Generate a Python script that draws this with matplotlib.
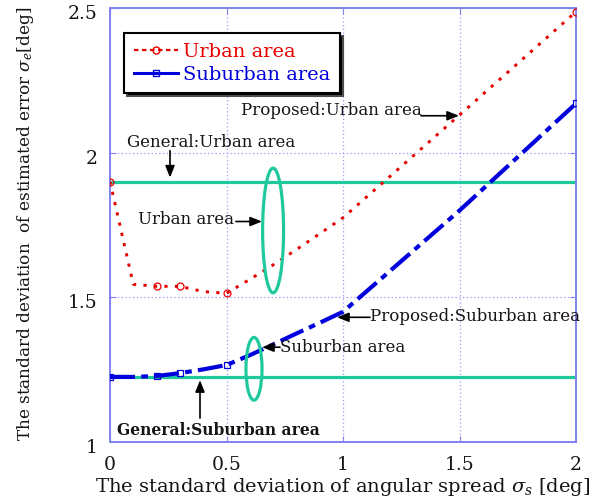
import matplotlib
matplotlib.use("Agg")
import matplotlib.pyplot as plt
from matplotlib.lines import Line2D
from matplotlib.patches import Ellipse
from matplotlib.transforms import ScaledTranslation

plt.rcParams["font.family"] = ["DejaVu Serif"]
plt.rcParams["mathtext.fontset"] = "dejavuserif"

# Angular spread sigma_s [deg]
spread = [0.0, 0.1, 0.2, 0.3, 0.4, 0.5, 0.6, 0.7, 0.8, 0.9, 1.0, 1.5, 2.0]
# Proposed method: std. dev. of estimated error sigma_e [deg]
urban_err = [1.90, 1.545, 1.538, 1.538, 1.52, 1.514, 1.562, 1.612, 1.665, 1.72, 1.775, 2.13, 2.487]
suburban_err = [1.225, 1.225, 1.228, 1.238, 1.251, 1.266, 1.30, 1.337, 1.375, 1.412, 1.45, 1.80, 2.17]
marked = [0, 2, 3, 5, 12]

# General method (independent of spread)
general_x = [0.0, 2.0]
general_urban = [1.90, 1.90]
general_suburban = [1.225, 1.225]

xticks = [0, 0.5, 1, 1.5, 2]
xtick_labels = ["0", "0.5", "1", "1.5", "2"]
yticks = [1, 1.5, 2, 2.5]
ytick_labels = ["1", "1.5", "2", "2.5"]

RED = "#e60000"
BLUE = "#0000dc"
GREEN = "#1fc99d"
FRAME = "#8282ee"
GRID = "#9a9aff"
INK = "#151515"

fig = plt.figure(figsize=(5.97, 5.03), dpi=100)
ax = fig.add_axes([110 / 597, 1 - 442 / 503, 466 / 597, 434 / 503])

ax.plot(general_x, general_urban, color=GREEN, lw=2.3, solid_capstyle="butt", zorder=2)
ax.plot(general_x, general_suburban, color=GREEN, lw=2.3, solid_capstyle="butt", zorder=2)

ax.plot(spread, urban_err, color=RED, lw=2.1, linestyle=(0, (1.1, 2.5)),
        marker="o", markevery=marked, markersize=5, markerfacecolor="none",
        markeredgecolor=RED, markeredgewidth=0.9, zorder=3)
ax.plot(spread, suburban_err, color=BLUE, lw=3.0, linestyle=(0, (6.0, 1.5, 1.6, 1.5)),
        marker="s", markevery=marked, markersize=5, markerfacecolor="none",
        markeredgecolor=BLUE, markeredgewidth=0.9, zorder=3)

# grouping ellipses
ax.add_patch(Ellipse((0.70, 1.731), 0.09, 0.431, fill=False, edgecolor=GREEN, lw=2.3, zorder=4))
ax.add_patch(Ellipse((0.618, 1.253), 0.069, 0.217, fill=False, edgecolor=GREEN, lw=2.3, zorder=4))

ax.set_xlim(0, 2)
ax.set_ylim(1, 2.5)
ax.set_xticks(xticks)
ax.set_xticklabels(xtick_labels)
ax.set_yticks(yticks)
ax.set_yticklabels(ytick_labels)
ax.grid(True, color=GRID, lw=0.9, linestyle=(0, (1, 2)))
ax.set_axisbelow(True)
for s in ax.spines.values():
    s.set_color(FRAME)
    s.set_linewidth(1.4)
ax.tick_params(direction="in", length=4, color=FRAME, labelsize=13.5,
               top=True, right=True, labelcolor=INK)
ax.tick_params(axis="x", pad=10)
ax.tick_params(axis="y", pad=9)
shift = ScaledTranslation(0, -4 / 100, fig.dpi_scale_trans)
for lab in ax.get_yticklabels():
    lab.set_transform(lab.get_transform() + shift)

ax.set_xlabel(r"The standard deviation of angular spread $\sigma_s$ [deg]",
              fontsize=14, ha="left", va="top", color=INK)
ax.xaxis.set_label_coords((95 - 110) / 466, (442 - 476) / 434)
ax.set_ylabel(r"The standard deviation  of estimated error $\sigma_e$[deg]",
              fontsize=12.2, color=INK)
ax.yaxis.set_label_coords((36 - 110) / 466, (442 - 224) / 434)

def px(xp, yp):
    return ((xp - 110) / 233.0, 2.5 - (yp - 8) / 290.0)

arrow = dict(arrowstyle="-|>,head_length=0.7,head_width=0.28", color="black",
             lw=1.2, shrinkA=0, shrinkB=0)
tkw = dict(fontsize=12, color=INK, va="center")

ax.annotate("", xy=px(459, 116), xytext=px(421, 116), arrowprops=arrow)
ax.text(*px(422, 111), "Proposed:Urban area", ha="right", **tkw)

ax.annotate("", xy=px(170, 178), xytext=px(170, 151), arrowprops=arrow)
ax.text(*px(127, 143), "General:Urban area", ha="left", **tkw)

ax.annotate("", xy=px(262, 222), xytext=px(236, 222), arrowprops=arrow)
ax.text(*px(234, 220), "Urban area", ha="right", **tkw)

ax.annotate("", xy=px(262, 348), xytext=px(280, 348), arrowprops=arrow)
ax.text(*px(280, 348), "Suburban area", ha="left", **tkw)

ax.annotate("", xy=px(337, 318), xytext=px(370, 318), arrowprops=arrow)
ax.text(*px(370, 317), "Proposed:Suburban area", ha="left", **tkw)

ax.annotate("", xy=px(200, 381), xytext=px(200, 419), arrowprops=arrow)
ax.text(*px(117, 431), "General:Suburban area", ha="left", fontweight="bold",
        fontsize=11.2, color=INK, va="center")

handles = [
    Line2D([], [], color=RED, lw=1.6, linestyle=(0, (2.0, 1.6)), marker="o",
           markersize=5, markerfacecolor="none", markeredgecolor=RED),
    Line2D([], [], color=BLUE, lw=2.2, marker="s", markersize=5,
           markerfacecolor="none", markeredgecolor=BLUE),
]
leg = ax.legend(handles, ["Urban area", "Suburban area"], loc="upper left",
                bbox_to_anchor=(124 / 597, 1 - 33 / 503), bbox_transform=fig.transFigure,
                fontsize=14, handlelength=2.3, handletextpad=0.25, borderpad=0.5,
                borderaxespad=0, labelspacing=0.25, fancybox=False, framealpha=1,
                numpoints=1, shadow={"facecolor": "black", "alpha": 1, "ox": 2, "oy": -2})
leg.get_frame().set_edgecolor("black")
leg.get_frame().set_linewidth(1.5)
for t, c in zip(leg.get_texts(), [RED, BLUE]):
    t.set_color(c)

fig.savefig("out.png", dpi=100)
